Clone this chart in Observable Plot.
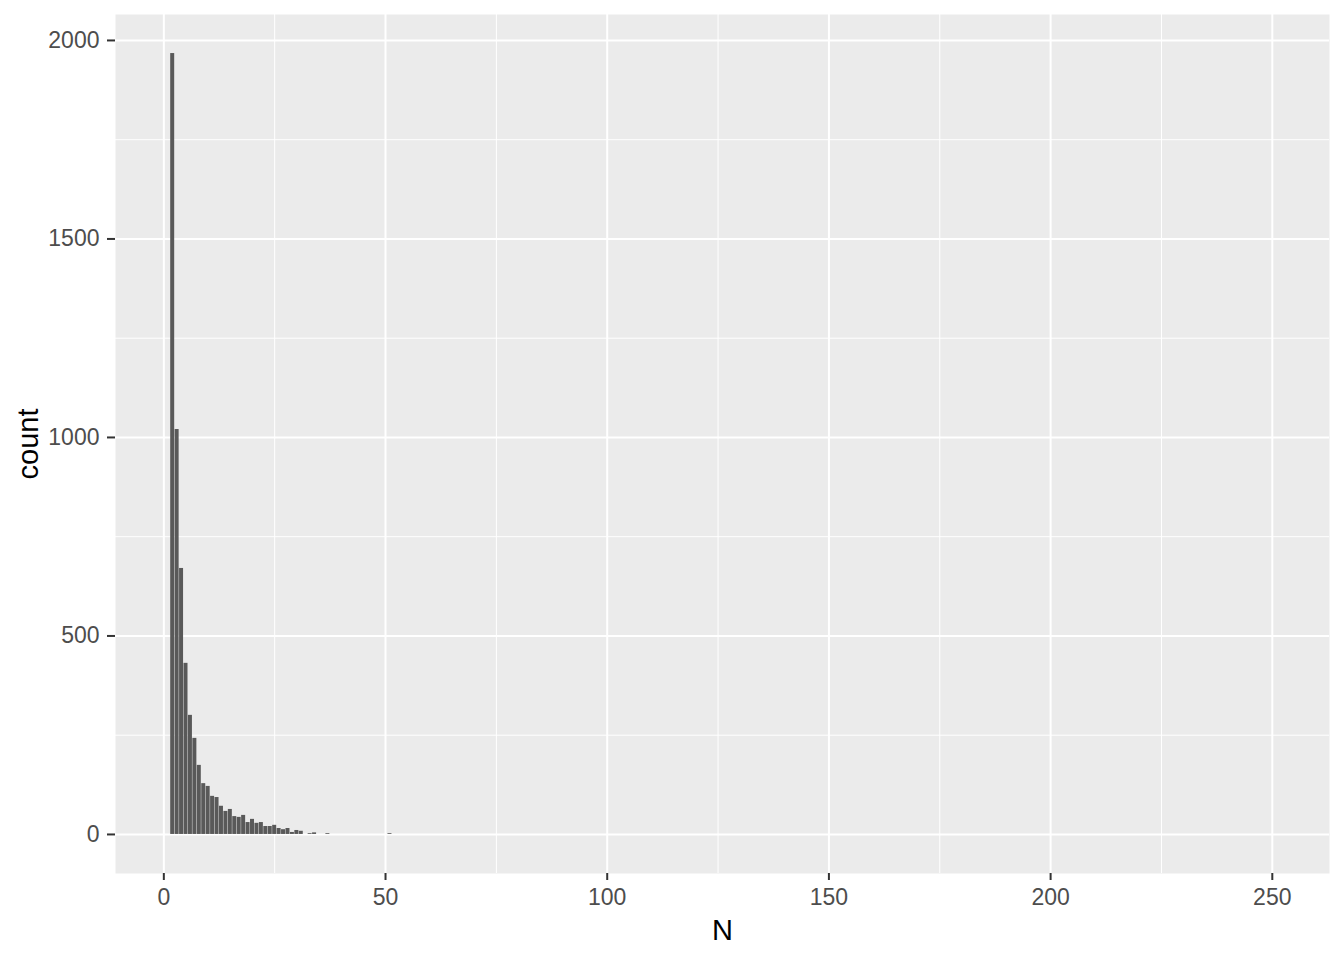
<!DOCTYPE html>
<html>
<head>
<meta charset="utf-8">
<script src="https://cdn.jsdelivr.net/npm/d3@7"></script>
<script src="https://cdn.jsdelivr.net/npm/@observablehq/plot@0.6"></script>
<style>
  html, body { margin: 0; padding: 0; background: white; }
</style>
</head>
<body>
<div id="chart"></div>
<script>
// Values of N (integer bins) and their counts
const nValues = [2, 3, 4, 5, 6, 7, 8, 9, 10, 11, 12, 13, 14, 15, 16, 17, 18, 19, 20, 21,
                 22, 23, 24, 25, 26, 27, 28, 29, 30, 31, 33, 34, 37, 51];
const counts  = [1967, 1020, 670, 431, 300, 242, 174, 128, 121, 96, 93, 71, 58, 63, 45, 43, 48, 30, 38, 28,
                 30, 20, 20, 23, 15, 12, 15, 5, 10, 8, 2, 4, 2, 2];

const xMajor = [0, 50, 100, 150, 200, 250];
const xMinor = [25, 75, 125, 175, 225];
const yMajor = [0, 500, 1000, 1500, 2000];
const yMinor = [250, 750, 1250, 1750];
const xTitle = "N";
const yTitle = "count";

const data = nValues.map((n, i) => ({N: n, count: counts[i]}));

const chart = Plot.plot({
  width: 1344,
  height: 960,
  marginLeft: 115,
  marginRight: 15,
  marginTop: 14,
  marginBottom: 87,
  style: {fontFamily: "'Liberation Sans', Arial, sans-serif", background: "white"},
  x: {domain: [-10.9, 262.9]},
  y: {domain: [-98.35, 2065.35]},
  marks: [
    Plot.frame({fill: "#EBEBEB", stroke: null}),
    Plot.ruleY(yMinor, {stroke: "white", strokeWidth: 1}),
    Plot.ruleX(xMinor, {stroke: "white", strokeWidth: 1}),
    Plot.ruleY(yMajor, {stroke: "white", strokeWidth: 2}),
    Plot.ruleX(xMajor, {stroke: "white", strokeWidth: 2}),
    Plot.rectY(data, {
      x1: d => d.N - 0.45,
      x2: d => d.N + 0.45,
      y1: 0,
      y2: "count",
      fill: "#595959"
    }),
    Plot.axisX({ticks: xMajor, tickSize: 7, tickPadding: 8, fontSize: 23,
                color: "#4D4D4D", stroke: "#333333", strokeWidth: 2, label: null, tickFormat: "d"}),
    Plot.axisY({ticks: yMajor, tickSize: 8, tickPadding: 8, fontSize: 23,
                color: "#4D4D4D", stroke: "#333333", strokeWidth: 2, label: null, tickFormat: "d"}),
    Plot.text([xTitle], {frameAnchor: "bottom", lineAnchor: "middle", textAnchor: "middle",
                         dy: 57, fontSize: 29, fill: "black"}),
    Plot.text([yTitle], {frameAnchor: "left", lineAnchor: "middle", textAnchor: "middle",
                         dx: -87, rotate: -90, fontSize: 29, fill: "black"})
  ]
});
document.getElementById("chart").appendChild(chart);
</script>
</body>
</html>
